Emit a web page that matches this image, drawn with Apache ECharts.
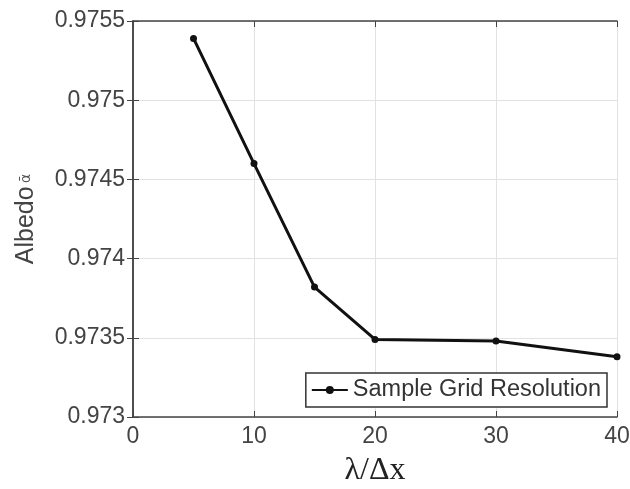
<!DOCTYPE html>
<html><head><meta charset="utf-8">
<script src="https://cdn.jsdelivr.net/npm/echarts@6/dist/echarts.min.js"></script>
<style>html,body{margin:0;padding:0;background:#fff}#c{width:630px;height:489px}</style>
</head><body><div id="c"></div>
<script>
const xValues = [5, 10, 15, 20, 30, 40];
const albedo = [0.97539, 0.97460, 0.97382, 0.97349, 0.97348, 0.97338];
const xTicks = [0, 10, 20, 30, 40];
const yTicks = [0.973, 0.9735, 0.974, 0.9745, 0.975, 0.9755];
const seriesName = 'Sample Grid Resolution';

const chart = echarts.init(document.getElementById('c'));
const axisCol = '#444';
const tickFont = {fontFamily:'Liberation Sans, Arial, sans-serif', fontSize:23, color:'#444'};
chart.setOption({
  animation:false,
  grid:{left:133, right:13, top:21, bottom:72, containLabel:false, outerBoundsMode:'none'},
  legend:{
    data:[seriesName], right:23, top:373,
    backgroundColor:'#fff', borderColor:'#333', borderWidth:1.5,
    padding:[5,6,5,5], itemWidth:36, itemHeight:10, itemGap:4,
    textStyle:{fontFamily:'Liberation Sans, Arial, sans-serif', fontSize:23.5, color:'#333'}
  },
  xAxis:[{
    type:'value', min:xTicks[0], max:xTicks[xTicks.length-1], interval:10,
    name:'λ/Δx', nameLocation:'middle', nameGap:38,
    nameTextStyle:{fontFamily:'Liberation Serif, Times New Roman, serif', fontSize:32, color:'#222'},
    axisLine:{lineStyle:{color:axisCol, width:1.5}},
    axisTick:{inside:true, length:6, lineStyle:{color:axisCol}},
    axisLabel:Object.assign({margin:8}, tickFont),
    splitLine:{show:true, lineStyle:{color:'#e2e2e2', width:1}}
  },{
    type:'value', position:'top', min:0, max:40, interval:10,
    axisLine:{show:true, lineStyle:{color:axisCol, width:1.5}},
    axisTick:{show:true, inside:true, length:6, lineStyle:{color:axisCol}},
    axisLabel:{show:false}, splitLine:{show:false}
  }],
  yAxis:[{
    type:'value', min:0.973, max:0.9755, interval:0.0005,
    name:'{a|Albedo} {b|ᾱ}', nameLocation:'middle', nameGap:94,
    nameTextStyle:{rich:{
      a:{fontFamily:'Liberation Sans, Arial, sans-serif', fontSize:25, color:'#444'},
      b:{fontFamily:'DejaVu Sans, sans-serif', fontSize:14, color:'#555'}
    }},
    axisLine:{show:true, lineStyle:{color:axisCol, width:1.5}},
    axisTick:{inside:true, length:6, lineStyle:{color:axisCol}},
    axisLabel:Object.assign({margin:8, formatter:v=>String(parseFloat(v.toFixed(4)))}, tickFont),
    splitLine:{show:true, lineStyle:{color:'#e2e2e2', width:1}}
  },{
    type:'value', position:'right', min:0.973, max:0.9755, interval:0.0005,
    axisLine:{show:true, lineStyle:{color:axisCol, width:1.5}},
    axisTick:{show:true, inside:true, length:6, lineStyle:{color:axisCol}},
    axisLabel:{show:false}, splitLine:{show:false}
  }],
  series:[{
    name:seriesName, type:'line',
    data:xValues.map((x,i)=>[x, albedo[i]]),
    symbol:'circle', symbolSize:7,
    lineStyle:{color:'#111', width:3},
    itemStyle:{color:'#111'}
  }]
});
</script></body></html>
